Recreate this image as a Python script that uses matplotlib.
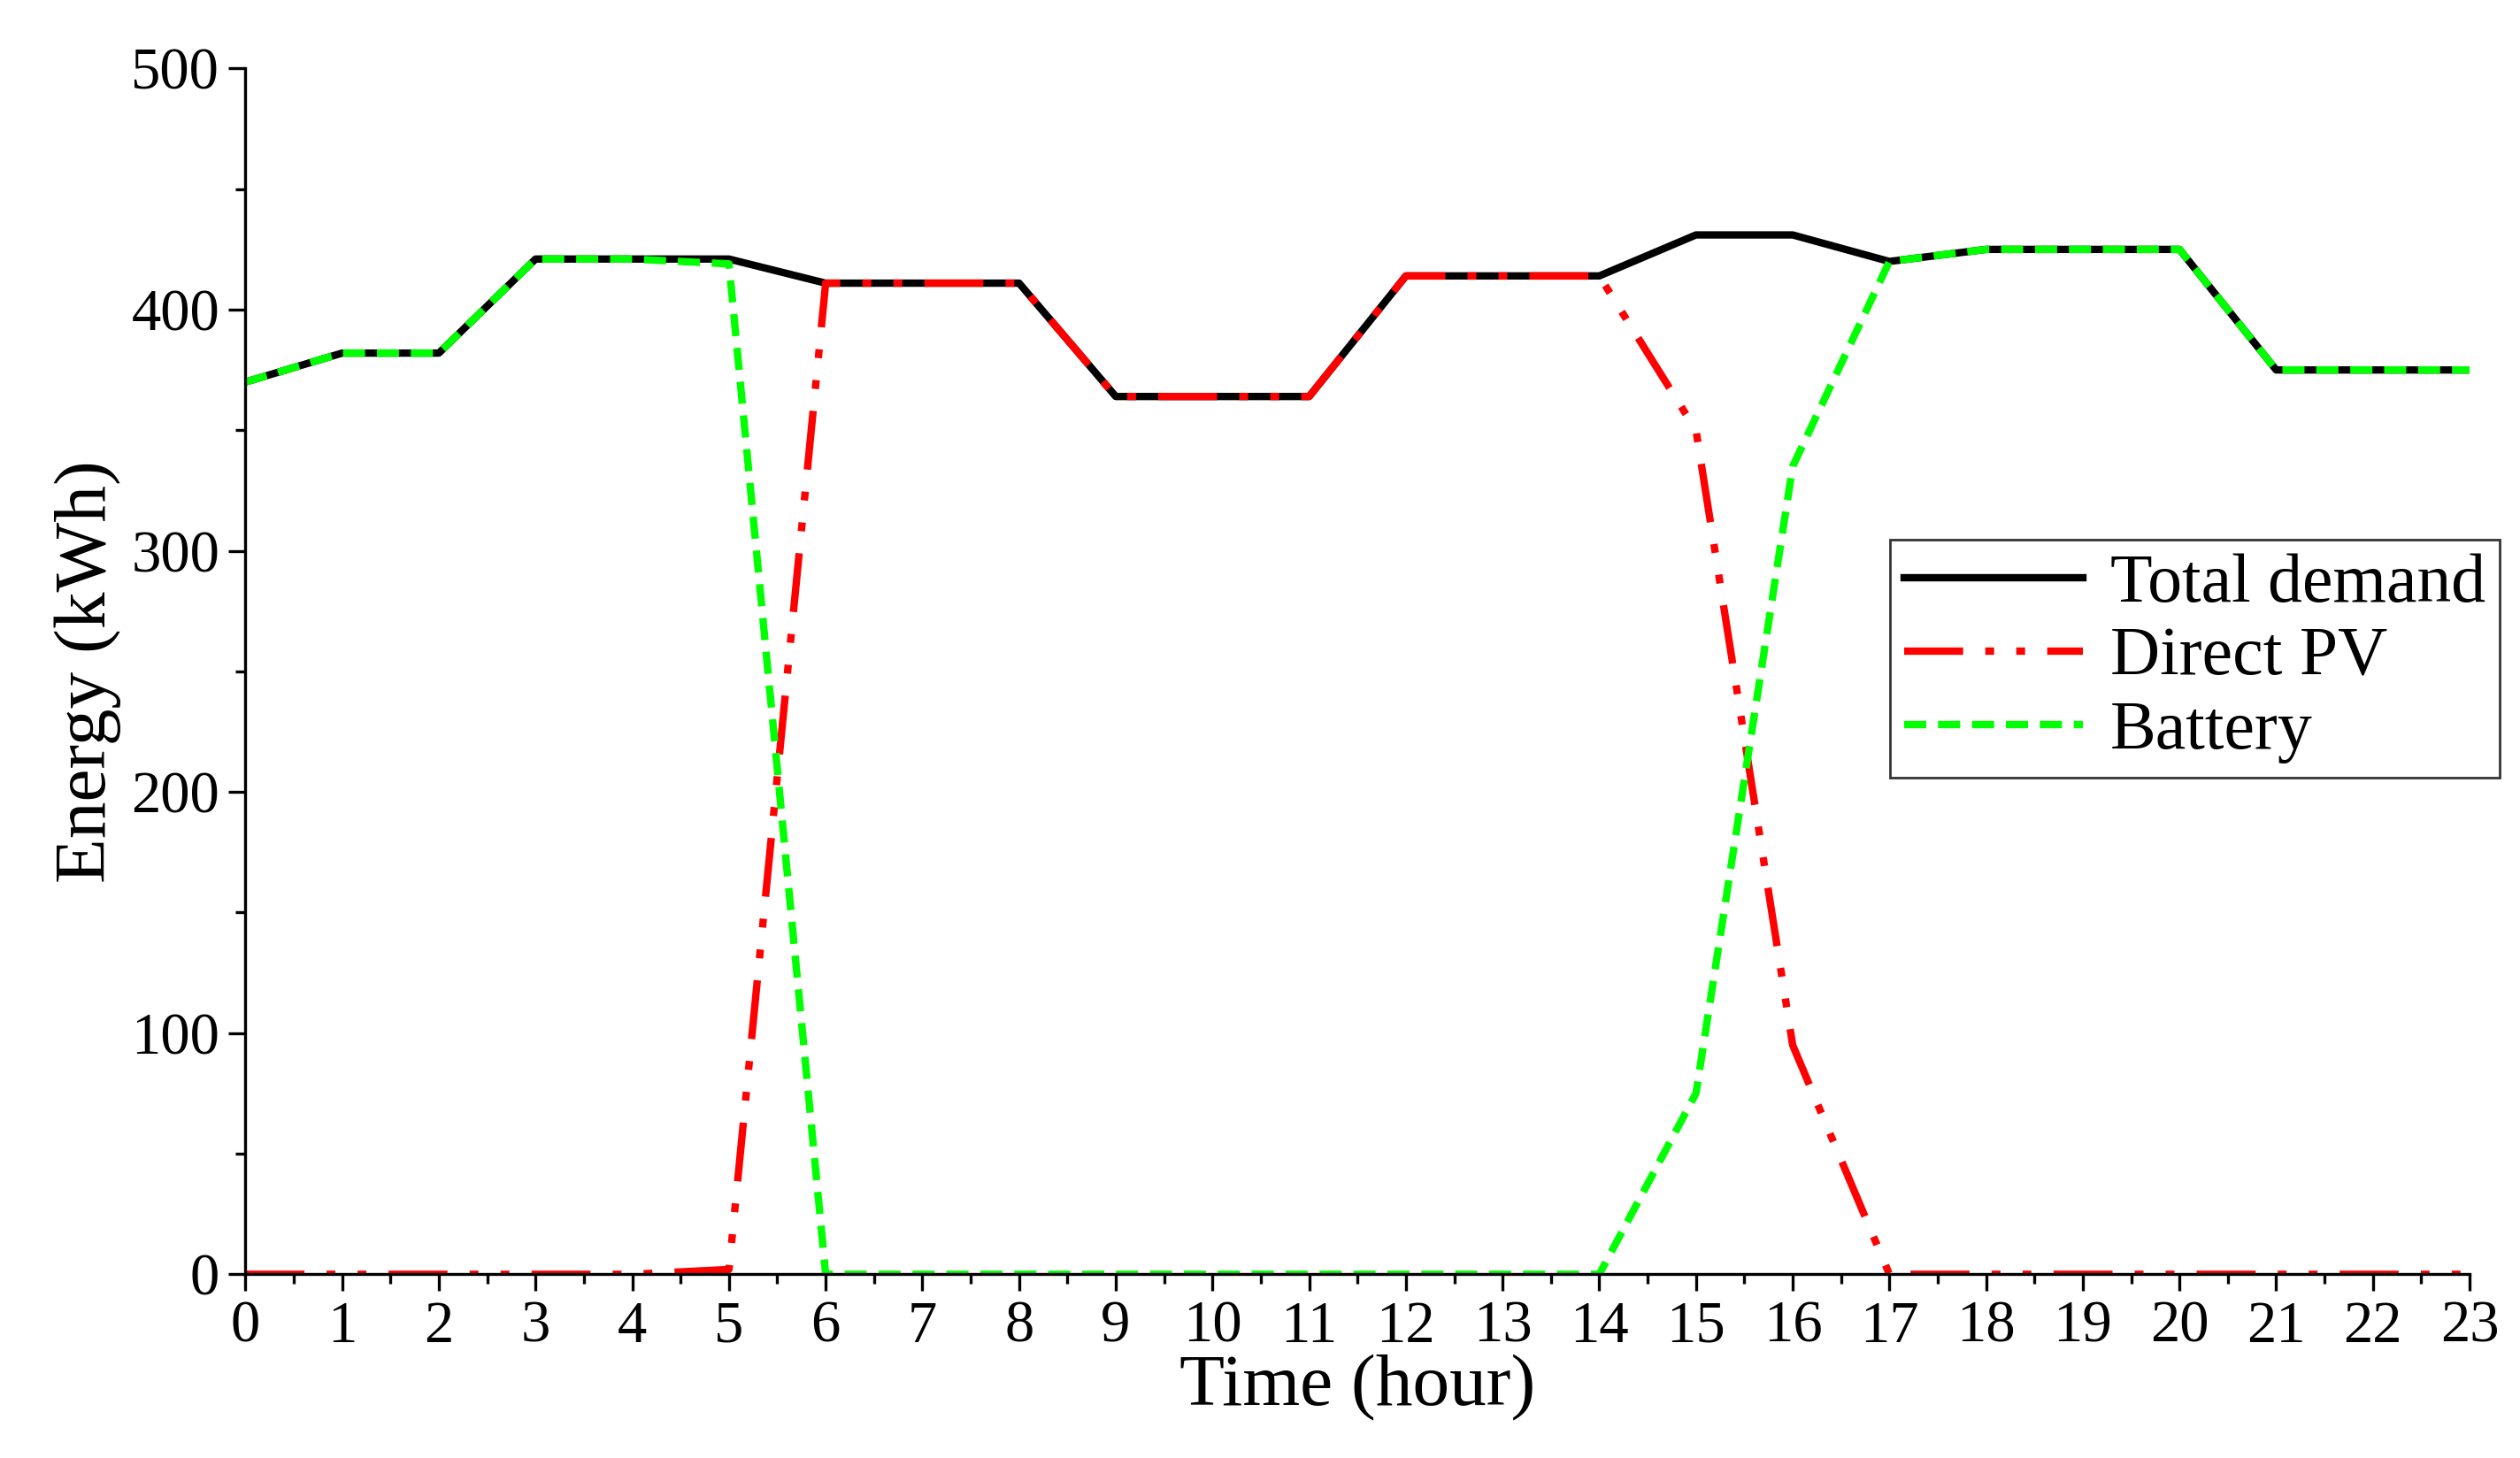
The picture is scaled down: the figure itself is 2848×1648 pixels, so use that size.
import matplotlib
matplotlib.use('Agg')
import matplotlib.pyplot as plt
import numpy as np
from matplotlib import ticker

hours = list(range(24))
total_demand = [370, 382, 382, 421, 421, 421, 411, 411, 411, 364, 364, 364,
                414, 414, 414, 431, 431, 420, 425, 425, 425, 375, 375, 375]
direct_pv = [0, 0, 0, 0, 0, 2, 411, 411, 411, 364, 364, 364,
             414, 414, 414, 350, 95, 0, 0, 0, 0, 0, 0, 0]
battery = [370, 382, 382, 421, 421, 419, 0, 0, 0, 0, 0, 0,
           0, 0, 0, 75, 335, 420, 425, 425, 425, 375, 375, 375]

plt.rcParams['font.family'] = ['Liberation Serif']

fig = plt.figure(figsize=(14.24, 8.24), dpi=200)
ax = fig.add_axes([0.0974, 0.126, 0.8876 - 0.005, 0.827])

ax.plot(hours, total_demand, color='black', lw=3, label='Total demand')
ax.plot(hours, direct_pv, color='#ff0000', lw=3,
        dashes=(8, 3, 1.2, 3, 1.2, 3), label='Direct PV')
ax.plot(hours, battery, color='#00ff00', lw=3, dashes=(3, 1.6), label='Battery')

ax.set_xlim(0, 23)
ax.set_ylim(0, 500)
ax.set_xticks(hours)
ax.xaxis.set_minor_locator(ticker.MultipleLocator(0.5))
ax.set_yticks(range(0, 501, 100))
ax.yaxis.set_minor_locator(ticker.MultipleLocator(50))
ax.spines['top'].set_visible(False)
ax.spines['right'].set_visible(False)
for s in ('left', 'bottom'):
    ax.spines[s].set_linewidth(1.2)
ax.tick_params(which='major', direction='out', length=7, width=1.2, labelsize=24)
ax.tick_params(which='minor', direction='out', length=4, width=1.2)

ax.set_xlabel('Time (hour)', fontsize=30, labelpad=0)
ax.set_ylabel('Energy (kWh)', fontsize=30, labelpad=4)

leg = ax.legend(loc='upper left', bbox_to_anchor=(0.724, 0.638), fontsize=28,
                frameon=True, fancybox=False, edgecolor='black', handlelength=2.6,
                borderpad=0.2, labelspacing=0.15, handletextpad=0.4)
leg.get_frame().set_linewidth(1.0)

fig.savefig('out.png', dpi=200)
